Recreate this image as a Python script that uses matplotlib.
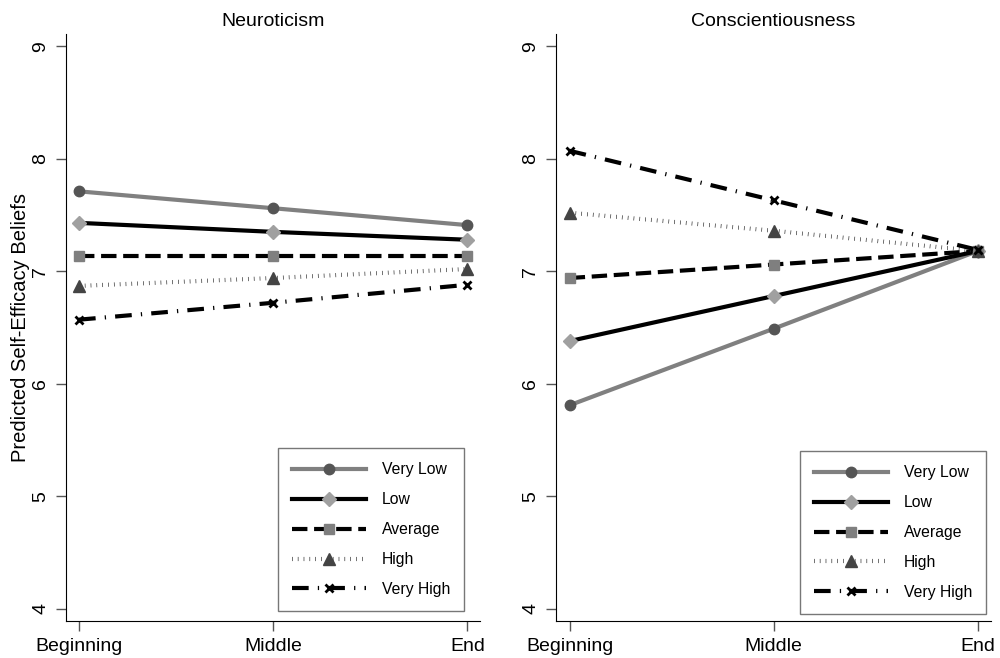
import matplotlib.pyplot as plt

plt.rcParams['font.family'] = ['Liberation Sans', 'DejaVu Sans']

times = ["Beginning", "Middle", "End"]
groups = ["Very Low", "Low", "Average", "High", "Very High"]

# predicted self-efficacy at each time, per trait level
neuroticism = {
    "Very Low": [7.71, 7.56, 7.41],
    "Low": [7.43, 7.35, 7.28],
    "Average": [7.14, 7.14, 7.14],
    "High": [6.87, 6.94, 7.02],
    "Very High": [6.57, 6.72, 6.88],
}
conscientiousness = {
    "Very Low": [5.81, 6.49, 7.18],
    "Low": [6.38, 6.78, 7.18],
    "Average": [6.94, 7.06, 7.18],
    "High": [7.52, 7.36, 7.18],
    "Very High": [8.07, 7.63, 7.19],
}

styles = {
    "Very Low": dict(color='#808080', ls='-', lw=3, marker='o', ms=7.5,
                     mfc='#555555', mec='#555555'),
    "Low": dict(color='black', ls='-', lw=3, marker='D', ms=7,
                mfc='#a0a0a0', mec='#a0a0a0'),
    "Average": dict(color='black', ls='--', lw=3, marker='s', ms=7,
                    mfc='#7f7f7f', mec='#7f7f7f'),
    "High": dict(color='#222222', ls=(0, (0.15, 1.25)), lw=3, marker='^', ms=8,
                 mfc='#444444', mec='#444444'),
    "Very High": dict(color='black', ls=(0, (4, 2.2, 0.3, 2.2)), lw=3,
                      marker='x', ms=5.5, mfc='black', mec='black', mew=2),
}


def draw(ax, data, title, legend_box):
    x = list(range(len(times)))
    for g in groups:
        ax.plot(x, data[g], label=g, **styles[g])
    ax.set_xlim(-0.067, 2.065)
    ax.set_ylim(3.893, 9.107)
    ax.set_xticks(x)
    ax.set_xticklabels(times, fontsize=14)
    ax.set_yticks([4, 5, 6, 7, 8, 9])
    ax.set_yticklabels(['4', '5', '6', '7', '8', '9'], rotation=90,
                       va='center', fontsize=14)
    ax.tick_params(axis='both', length=7, width=1, color='#555555', pad=5)
    for s in ['top', 'right']:
        ax.spines[s].set_visible(False)
    ax.set_title(title, fontsize=14, pad=6)
    leg = ax.legend(loc='lower left', bbox_to_anchor=legend_box, fontsize=11.3,
                    handlelength=4.7, labelspacing=0.95, borderpad=0.9,
                    handletextpad=1.0, borderaxespad=0, fancybox=False,
                    frameon=True)
    leg.get_frame().set_edgecolor('#555555')
    leg.get_frame().set_linewidth(1)


fig = plt.figure(figsize=(10, 6.58), dpi=100)
ax1 = fig.add_axes([0.066, 0.0562, 0.414, 0.892])
ax2 = fig.add_axes([0.556, 0.0562, 0.435, 0.892])

draw(ax1, neuroticism, "Neuroticism", (0.512, 0.017))
draw(ax2, conscientiousness, "Conscientiousness", (0.561, 0.012))
ax1.set_ylabel("Predicted Self-Efficacy Beliefs", fontsize=14.5, labelpad=2)

fig.savefig('out.png', dpi=100)
